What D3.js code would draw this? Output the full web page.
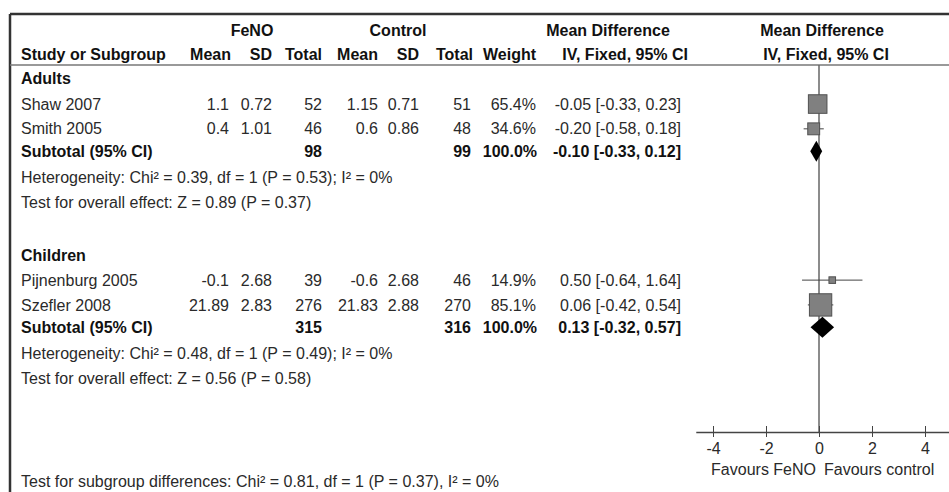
<!DOCTYPE html>
<html>
<head>
<meta charset="utf-8">
<script src="https://cdn.jsdelivr.net/npm/d3@7"></script>
<style>
  body { margin: 0; background: #fff; }
  svg text { font-family: "Liberation Sans", Arial, sans-serif; font-size: 16px; fill: #2a2a2a; }
  svg text.b { font-weight: bold; fill: #111; }
</style>
</head>
<body>
<div class="chart"></div>
<script>
// forest plot data
var studies = ["Shaw 2007", "Smith 2005", "Pijnenburg 2005", "Szefler 2008"];
var fenoMean = [1.1, 0.4, -0.1, 21.89];
var fenoSD = [0.72, 1.01, 2.68, 2.83];
var fenoN = [52, 46, 39, 276];
var ctrlMean = [1.15, 0.6, -0.6, 21.83];
var ctrlSD = [0.71, 0.86, 2.68, 2.88];
var ctrlN = [51, 48, 46, 270];
var weight = [65.4, 34.6, 14.9, 85.1];
var md = [-0.05, -0.20, 0.50, 0.06];
var lo = [-0.33, -0.58, -0.64, -0.42];
var hi = [0.23, 0.18, 1.64, 0.54];

var groups = ["Adults", "Children"];
var subN1 = [98, 315];
var subN2 = [99, 316];
var subMd = [-0.10, 0.13];
var subLo = [-0.33, -0.32];
var subHi = [0.12, 0.57];
var hetText = ["Heterogeneity: Chi² = 0.39, df = 1 (P = 0.53); I² = 0%",
               "Heterogeneity: Chi² = 0.48, df = 1 (P = 0.49); I² = 0%"];
var effText = ["Test for overall effect: Z = 0.89 (P = 0.37)",
               "Test for overall effect: Z = 0.56 (P = 0.58)"];
var subgroupText = "Test for subgroup differences: Chi² = 0.81, df = 1 (P = 0.37), I² = 0%";

var ticks = [-4, -2, 0, 2, 4];
var favours = ["Favours FeNO", "Favours control"];

var width = 949, height = 492;

// hyphen minus instead of d3's unicode minus
var loc = d3.formatLocale({decimal: ".", thousands: ",", grouping: [3], currency: ["", ""], minus: "-"});
var f2 = loc.format(".2f"), f1 = loc.format(".1f"), f0 = loc.format("d");

var svg = d3.select(".chart").append("svg")
  .attr("width", width)
  .attr("height", height);

// row slots -> y
var y = d3.scaleLinear().domain([0, 1]).range([78, 102.8]);
var studySlot = [1.05, 2.05, 8.15, 9.15];
var groupSlot = [0, 7.15];
var subSlot = [2.95, 10.05];

// x scale for the plot
var x = d3.scaleLinear().domain([0, 1]).range([819, 845.5]);
var box = d3.scalePow().exponent(0.7).domain([0, 100]).range([0, 25]);

// column anchors (right aligned)
var col = {mean1: 229, sd1: 272, tot1: 322, mean2: 378, sd2: 419, tot2: 471, weight: 536, ci: 681};

// frame
svg.append("line").attr("x1", 10).attr("x2", width).attr("y1", 14).attr("y2", 14)
  .attr("stroke", "#333").attr("stroke-width", 2.5);
svg.append("line").attr("x1", 10).attr("x2", 10).attr("y1", 14).attr("y2", height)
  .attr("stroke", "#333").attr("stroke-width", 2.5);
svg.append("line").attr("x1", 10).attr("x2", width).attr("y1", 65).attr("y2", 65)
  .attr("stroke", "#777").attr("stroke-width", 1.5);

// headers
var hdr = svg.append("g");
function htext(t, xx, yy, anchor) {
  hdr.append("text").attr("class", "b").attr("x", xx).attr("y", yy)
    .attr("text-anchor", anchor).text(t);
}
htext("FeNO", 252, 36, "middle");
htext("Control", 398, 36, "middle");
htext("Mean Difference", 608, 36, "middle");
htext("Mean Difference", 822, 36, "middle");
htext("Study or Subgroup", 21, 60, "start");
htext("Mean", col.mean1 + 2, 60, "end");
htext("SD", col.sd1, 60, "end");
htext("Total", col.tot1, 60, "end");
htext("Mean", col.mean2, 60, "end");
htext("SD", col.sd2, 60, "end");
htext("Total", col.tot2 + 2, 60, "end");
htext("Weight", col.weight, 60, "end");
htext("IV, Fixed, 95% CI", col.ci + 7, 60, "end");
htext("IV, Fixed, 95% CI", 826, 60, "middle");

// zero line
svg.append("line").attr("x1", x(0)).attr("x2", x(0)).attr("y1", 65).attr("y2", 432)
  .attr("stroke", "#666").attr("stroke-width", 1.5);

// study rows
var rows = svg.append("g").selectAll("g")
  .data(studies)
  .enter().append("g")
  .attr("transform", function (d, i) { return "translate(0," + y(studySlot[i]) + ")"; });

rows.append("text").attr("x", 21).attr("dy", "0.35em").text(function (d) { return d; });
var cells = [
  ["mean1", function (i) { return String(fenoMean[i]); }],
  ["sd1", function (i) { return String(fenoSD[i]); }],
  ["tot1", function (i) { return f0(fenoN[i]); }],
  ["mean2", function (i) { return String(ctrlMean[i]); }],
  ["sd2", function (i) { return String(ctrlSD[i]); }],
  ["tot2", function (i) { return f0(ctrlN[i]); }],
  ["weight", function (i) { return f1(weight[i]) + "%"; }],
  ["ci", function (i) { return f2(md[i]) + " [" + f2(lo[i]) + ", " + f2(hi[i]) + "]"; }]
];
cells.forEach(function (c) {
  rows.append("text").attr("x", col[c[0]]).attr("dy", "0.35em").attr("text-anchor", "end")
    .text(function (d, i) { return c[1](i); });
});

// whiskers and boxes
rows.append("line")
  .attr("x1", function (d, i) { return x(lo[i]); })
  .attr("x2", function (d, i) { return x(hi[i]); })
  .attr("stroke", "#444").attr("stroke-width", 1);
rows.append("rect")
  .attr("x", function (d, i) { return x(md[i]) - box(weight[i]) / 2; })
  .attr("y", function (d, i) { return -box(weight[i]) / 2; })
  .attr("width", function (d, i) { return box(weight[i]); })
  .attr("height", function (d, i) { return box(weight[i]); })
  .attr("fill", "#808080").attr("stroke", "#505050").attr("stroke-width", 1);

// subgroup headings, subtotals, stats
groups.forEach(function (g, k) {
  svg.append("text").attr("class", "b").attr("x", 21).attr("y", y(groupSlot[k])).attr("dy", "0.35em").text(g);

  var sy = y(subSlot[k]);
  var sub = svg.append("g").attr("transform", "translate(0," + sy + ")");
  sub.append("text").attr("class", "b").attr("x", 21).attr("dy", "0.35em").text("Subtotal (95% CI)");
  sub.append("text").attr("class", "b").attr("x", col.tot1).attr("dy", "0.35em").attr("text-anchor", "end").text(f0(subN1[k]));
  sub.append("text").attr("class", "b").attr("x", col.tot2).attr("dy", "0.35em").attr("text-anchor", "end").text(f0(subN2[k]));
  sub.append("text").attr("class", "b").attr("x", col.weight + 1).attr("dy", "0.35em").attr("text-anchor", "end").text("100.0%");
  sub.append("text").attr("class", "b").attr("x", col.ci).attr("dy", "0.35em").attr("text-anchor", "end")
    .text(f2(subMd[k]) + " [" + f2(subLo[k]) + ", " + f2(subHi[k]) + "]");

  var hh = 10.5;
  sub.append("path")
    .attr("d", "M" + x(subLo[k]) + ",0L" + x(subMd[k]) + "," + (-hh) + "L" + x(subHi[k]) + ",0L" + x(subMd[k]) + "," + hh + "Z")
    .attr("fill", "#000");

  svg.append("text").attr("x", 21).attr("y", y(subSlot[k] + 1.05)).attr("dy", "0.35em").text(hetText[k]);
  svg.append("text").attr("x", 21).attr("y", y(subSlot[k] + 2.05)).attr("dy", "0.35em").text(effText[k]);
});

svg.append("text").attr("x", 21).attr("y", y(16.25)).attr("dy", "0.35em").text(subgroupText);

// axis
var axisY = 432;
var xa = d3.scaleLinear().domain([-4.65, 5.1]).range([x(-4.65), x(5.1)]);
var axis = svg.append("g").attr("transform", "translate(0," + axisY + ")")
  .call(d3.axisBottom(xa).tickValues(ticks).tickFormat(loc.format("d")).tickSize(5).tickSizeOuter(0).tickPadding(6));
axis.select(".domain").attr("stroke", "#444").attr("stroke-width", 1.5);
axis.selectAll(".tick line").attr("stroke", "#444").attr("y1", -6).attr("y2", 5);
axis.selectAll(".tick text").attr("font-size", null).attr("font-family", null).attr("fill", "#2a2a2a");

svg.append("text").attr("x", x(0) - 3).attr("y", 475).attr("text-anchor", "end").text(favours[0]);
svg.append("text").attr("x", x(0) + 5).attr("y", 475).attr("text-anchor", "start").text(favours[1]);
</script>
</body>
</html>
